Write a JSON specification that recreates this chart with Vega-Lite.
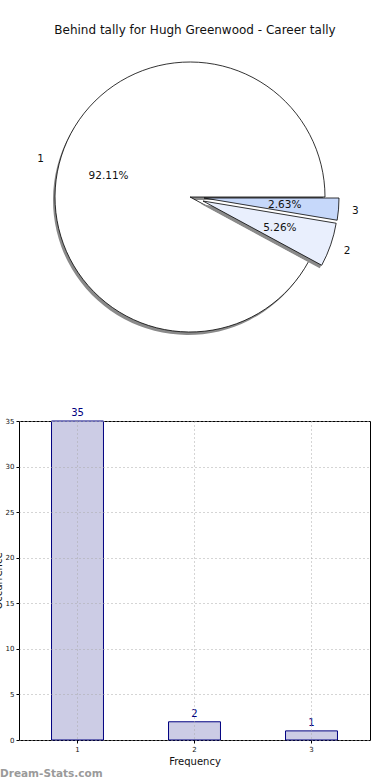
{
  "$schema": "https://vega.github.io/schema/vega-lite/v6.json",
  "padding": {"left": -8, "top": 24, "right": 0, "bottom": 0},
  "background": "white",
  "config": {"font": "DejaVu Sans", "view": {"stroke": "black", "strokeWidth": 1}},
  "datasets": {
    "d": [
      {"k": 1, "n": 35, "pct": "92.11%"},
      {"k": 2, "n": 2, "pct": "5.26%"},
      {"k": 3, "n": 1, "pct": "2.63%"}
    ]
  },
  "spacing": 72,
  "bounds": "flush",
  "vconcat": [
    {
      "title": {"text": "Behind tally for Hugh Greenwood - Career tally", "fontSize": 12, "fontWeight": "normal", "color": "#111", "offset": 8, "dx": 5},
      "width": 342,
      "height": 304,
      "view": {"stroke": null},
      "data": {"name": "d"},
      "encoding": {
        "theta": {"field": "n", "type": "quantitative", "stack": true, "scale": {"range": [1.5708, 7.854]}},
        "order": {"field": "k", "type": "quantitative", "sort": "descending"}
      },
      "layer": [
        {"mark": {"type": "arc", "outerRadius": 135, "xOffset": -2, "yOffset": 3, "fill": "#8a8a8a", "stroke": null},
         "encoding": {"opacity": {"condition": {"test": "datum.k == 1", "value": 1}, "value": 0}}},
        {"mark": {"type": "arc", "outerRadius": 135, "fill": "white", "stroke": "black", "strokeWidth": 0.8},
         "encoding": {"opacity": {"condition": {"test": "datum.k == 1", "value": 1}, "value": 0}}},
        {"mark": {"type": "arc", "outerRadius": 135, "xOffset": 11, "yOffset": 7, "fill": "#8a8a8a", "stroke": null},
         "encoding": {"opacity": {"condition": {"test": "datum.k == 2", "value": 1}, "value": 0}}},
        {"mark": {"type": "arc", "outerRadius": 135, "xOffset": 13, "yOffset": 4, "fill": "#e9effd", "stroke": "black", "strokeWidth": 0.8},
         "encoding": {"opacity": {"condition": {"test": "datum.k == 2", "value": 1}, "value": 0}}},
        {"mark": {"type": "arc", "outerRadius": 135, "xOffset": 14, "yOffset": 1, "fill": "#c6d8fa", "stroke": "black", "strokeWidth": 0.8},
         "encoding": {"opacity": {"condition": {"test": "datum.k == 3", "value": 1}, "value": 0}}},
        {"mark": {"type": "text", "radius": 154, "fontSize": 10.5, "color": "#111"},
         "encoding": {"text": {"field": "k"}, "opacity": {"condition": {"test": "datum.k == 1", "value": 1}, "value": 0}}},
        {"mark": {"type": "text", "radius": 166, "fontSize": 10.5, "color": "#111"},
         "encoding": {"text": {"field": "k"}, "opacity": {"condition": {"test": "datum.k != 1", "value": 1}, "value": 0}}},
        {"mark": {"type": "text", "radius": 84, "fontSize": 10.5, "color": "#111"},
         "encoding": {"text": {"field": "pct"}, "opacity": {"condition": {"test": "datum.k == 1", "value": 1}, "value": 0}}},
        {"mark": {"type": "text", "radius": 95, "fontSize": 10.5, "color": "#111"},
         "encoding": {"text": {"field": "pct"}, "opacity": {"condition": {"test": "datum.k != 1", "value": 1}, "value": 0}}}
      ]
    },
    {
      "width": 351,
      "height": 319,
      "data": {"name": "d"},
      "title": {"text": "Dream-Stats.com", "orient": "bottom", "anchor": "start", "frame": "group", "dx": -19, "offset": 3, "fontSize": 10.5, "fontWeight": "bold", "color": "#9a9a9a"},
      "encoding": {
        "x": {"field": "k", "type": "ordinal",
              "scale": {"paddingInner": 0.556, "paddingOuter": 0.278},
              "axis": {"title": "Frequency", "labelAngle": 0, "labelFontSize": 7, "labelColor": "#111", "titleFontSize": 10, "titleFontWeight": "normal", "titleColor": "#111", "titlePadding": 4, "domain": false, "tickSize": 3, "tickColor": "black", "grid": true, "gridDash": [1, 3], "gridColor": "#aaaaaa", "bandPosition": 0.5, "zindex": 1}},
        "y": {"field": "n", "type": "quantitative",
              "scale": {"domain": [0, 35], "nice": false},
              "axis": {"title": "Occurrence", "values": [0, 5, 10, 15, 20, 25, 30, 35], "labelFontSize": 7, "labelColor": "#111", "titleFontSize": 10, "titleFontWeight": "normal", "titleColor": "#111", "titlePadding": 2, "domain": false, "tickSize": 3, "tickColor": "black", "grid": true, "gridDash": [1, 3], "gridColor": "#aaaaaa", "zindex": 1}}
      },
      "layer": [
        {"mark": {"type": "bar", "fill": "#ccccE5", "stroke": "#000080", "strokeWidth": 1}},
        {"mark": {"type": "text", "baseline": "bottom", "dy": -3, "color": "#000080", "fontSize": 10},
         "encoding": {"text": {"field": "n"}}}
      ]
    }
  ]
}
